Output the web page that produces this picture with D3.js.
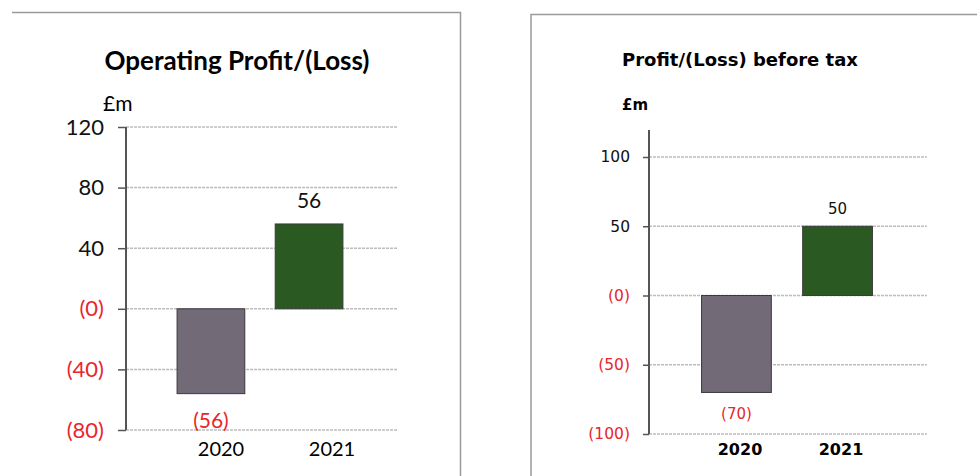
<!DOCTYPE html>
<html>
<head>
<meta charset="utf-8">
<script src="https://cdn.jsdelivr.net/npm/d3@7"></script>
<style>
  body { margin: 0; background: #fff; }
  svg { display: block; }
</style>
</head>
<body>
<div id="chart-container"></div>
<script>
'use strict';

// chart data
const years = ['2020', '2021'];
const operatingProfit = [-56, 56];
const profitBeforeTax = [-70, 50];
const opTicks = [120, 80, 40, 0, -40, -80];
const pbtTicks = [100, 50, 0, -50, -100];
const titles = ['Operating Profit/(Loss)', 'Profit/(Loss) before tax'];
const unitLabel = '£m';

const red = '#e8262b';
const barColours = ['#726a77', '#2a5a22'];

// negatives and zero in brackets
const fmt = v => v > 0 ? String(v) : '(' + Math.abs(v) + ')';

var width = 977;
var height = 476;

var svg = d3.select('#chart-container')
  .append('svg')
  .attr('width', width)
  .attr('height', height);

// panel frames
svg.append('path')
  .attr('d', 'M12,12.5 H460.5 V476')
  .attr('fill', 'none')
  .attr('stroke', '#9a9a9a')
  .attr('stroke-width', 1.5);
svg.append('path')
  .attr('d', 'M531,476 V14.5 H977')
  .attr('fill', 'none')
  .attr('stroke', '#9a9a9a')
  .attr('stroke-width', 1.5);

function drawPanel(p) {
  var g = svg.append('g');

  var y = d3.scaleLinear()
    .domain(d3.extent(p.ticks))
    .range(p.yRange);

  var x = d3.scaleBand()
    .domain(years)
    .range(p.xRange)
    .paddingInner(0.31)
    .paddingOuter(0.5);

  // title
  g.append('text')
    .attr('x', p.titleX)
    .attr('y', p.titleY)
    .attr('text-anchor', 'middle')
    .style('font-family', p.font)
    .style('font-weight', 'bold')
    .style('font-size', p.titleSize + 'px')
    .text(p.title);

  g.append('text')
    .attr('x', p.unitX)
    .attr('y', p.unitY)
    .style('font-family', p.font)
    .style('font-weight', p.unitWeight)
    .style('font-size', p.unitSize + 'px')
    .text(unitLabel);

  // gridlines
  g.selectAll('line.grid')
    .data(p.ticks)
    .enter()
    .append('line')
    .attr('class', 'grid')
    .attr('x1', p.axisX)
    .attr('x2', p.gridEnd)
    .attr('y1', d => y(d))
    .attr('y2', d => y(d))
    .attr('stroke', '#bdbdbd')
    .attr('stroke-width', 1.5)
    .attr('stroke-dasharray', '3 1');

  // y axis
  var axis = g.append('g')
    .attr('transform', 'translate(' + p.axisX + ',0)')
    .call(d3.axisLeft(y)
      .tickValues(p.ticks)
      .tickFormat(fmt)
      .tickSize(p.tickLen)
      .tickPadding(p.tickPad));
  axis.select('.domain').remove();
  axis.selectAll('.tick line').attr('stroke', '#555').attr('stroke-width', 1.5);
  axis.selectAll('.tick text')
    .style('font-family', p.font)
    .style('font-size', p.tickSize + 'px')
    .attr('fill', d => d > 0 ? '#111' : red);

  g.append('line')
    .attr('x1', p.axisX)
    .attr('x2', p.axisX)
    .attr('y1', p.axisTop)
    .attr('y2', y(d3.min(p.ticks)))
    .attr('stroke', '#555')
    .attr('stroke-width', 2);

  // bars
  g.selectAll('rect')
    .data(p.values)
    .enter()
    .append('rect')
    .attr('x', (d, i) => x(years[i]))
    .attr('width', x.bandwidth())
    .attr('y', d => y(Math.max(0, d)))
    .attr('height', d => Math.abs(y(d) - y(0)))
    .attr('fill', (d, i) => barColours[i])
    .attr('stroke', '#3a3a3a')
    .attr('stroke-width', 1);

  // value labels
  g.selectAll('text.val')
    .data(p.values)
    .enter()
    .append('text')
    .attr('class', 'val')
    .attr('x', (d, i) => x(years[i]) + x.bandwidth() / 2)
    .attr('y', d => d > 0 ? y(d) - p.above : y(d) + p.below)
    .attr('text-anchor', 'middle')
    .style('font-family', p.font)
    .style('font-size', p.valSize + 'px')
    .attr('fill', d => d > 0 ? '#111' : red)
    .text(fmt);

  // category labels
  var cx = d3.scalePoint().domain(years).range(p.catRange);
  g.selectAll('text.cat')
    .data(years)
    .enter()
    .append('text')
    .attr('class', 'cat')
    .attr('x', d => cx(d))
    .attr('y', p.catY)
    .attr('text-anchor', 'middle')
    .style('font-family', p.font)
    .style('font-weight', p.catWeight)
    .style('font-size', p.catSize + 'px')
    .text(d => d);
}

drawPanel({
  title: titles[0], values: operatingProfit, ticks: opTicks,
  font: 'Lato, "Open Sans", sans-serif',
  titleX: 237, titleY: 70, titleSize: 26,
  unitX: 103, unitY: 111, unitSize: 21, unitWeight: 'normal',
  yRange: [430, 127], xRange: [128, 392],
  axisX: 126, axisTop: 127, gridEnd: 397, tickLen: 8, tickPad: 14, tickSize: 22,
  valSize: 21, above: 16, below: 34,
  catRange: [221, 332], catY: 456, catSize: 20, catWeight: 'normal'
});

drawPanel({
  title: titles[1], values: profitBeforeTax, ticks: pbtTicks,
  font: '"DejaVu Sans", Verdana, sans-serif',
  titleX: 740, titleY: 66, titleSize: 18,
  unitX: 622, unitY: 110, unitSize: 15, unitWeight: 'bold',
  yRange: [434, 157], xRange: [651, 923],
  axisX: 649, axisTop: 130, gridEnd: 927, tickLen: 6, tickPad: 13, tickSize: 15.5,
  valSize: 15, above: 12, below: 27,
  catRange: [740, 841], catY: 455, catSize: 16, catWeight: 'bold'
});
</script>
</body>
</html>
